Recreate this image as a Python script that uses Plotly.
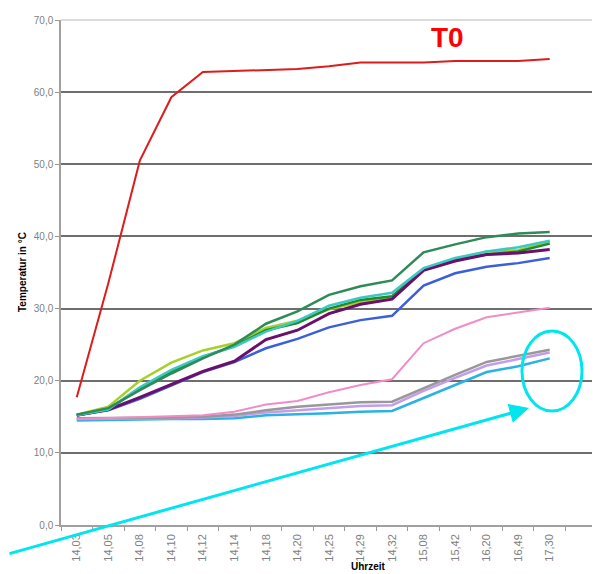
import plotly.graph_objects as go

categories = ["14,03", "14,05", "14,08", "14,10", "14,12", "14,14", "14,18", "14,20",
              "14,25", "14,29", "14,32", "15,08", "15,42", "16,20", "16,49", "17,30"]

t0_red = [17.7, 33.5, 50.5, 59.3, 62.8, 62.9, 63.1, 63.2, 63.6, 64.1, 64.1, 64.1, 64.3, 64.3, 64.3, 64.6]
seagreen = [15.3, 16.2, 18.7, 21.0, 23.1, 25.0, 27.9, 29.6, 31.9, 33.1, 33.9, 37.8, 38.9, 39.9, 40.4, 40.6]
teal = [15.2, 16.0, 19.1, 21.5, 23.4, 24.7, 26.8, 28.3, 30.4, 31.5, 32.2, 35.6, 37.0, 37.9, 38.5, 39.4]
yellowgreen = [15.3, 16.4, 20.0, 22.5, 24.2, 25.2, 27.3, 28.3, 29.9, 30.9, 31.5, 35.4, 36.8, 37.9, 38.1, 39.3]
forestgreen = [15.2, 16.0, 19.0, 21.3, 23.3, 24.8, 27.0, 28.0, 30.0, 31.2, 31.7, 35.4, 36.8, 37.5, 37.9, 39.0]
purple = [15.2, 16.0, 17.7, 19.5, 21.3, 22.7, 25.7, 27.0, 29.3, 30.6, 31.3, 35.3, 36.6, 37.5, 37.7, 38.2]
blue = [15.2, 15.9, 17.5, 19.3, 21.2, 22.6, 24.5, 25.8, 27.4, 28.4, 29.0, 33.2, 34.9, 35.8, 36.3, 37.0]
pink = [14.7, 14.8, 14.9, 15.0, 15.2, 15.7, 16.7, 17.2, 18.4, 19.4, 20.2, 25.2, 27.2, 28.8, 29.4, 30.1]
gray = [14.8, 14.8, 14.9, 14.9, 15.0, 15.3, 15.9, 16.4, 16.7, 17.0, 17.1, 19.0, 20.8, 22.6, 23.4, 24.3]
lavender = [14.7, 14.7, 14.8, 14.8, 14.9, 15.1, 15.6, 15.9, 16.2, 16.5, 16.6, 18.6, 20.4, 22.1, 23.0, 23.9]
cyan = [14.5, 14.6, 14.6, 14.7, 14.7, 14.8, 15.2, 15.3, 15.5, 15.7, 15.8, 17.6, 19.4, 21.2, 22.0, 23.1]

series = [
    ("cyan", cyan, "#2AB2E2", 2.5),
    ("lavender", lavender, "#C49CEB", 2.5),
    ("gray", gray, "#989898", 2.5),
    ("pink", pink, "#F08CC8", 2.0),
    ("blue", blue, "#3B5EDB", 2.5),
    ("yellowgreen", yellowgreen, "#A6D02A", 2.5),
    ("forestgreen", forestgreen, "#1F8A2E", 2.5),
    ("purple", purple, "#6A0F6E", 3.0),
    ("teal", teal, "#3EC8C4", 2.5),
    ("seagreen", seagreen, "#2E8B57", 2.5),
    ("T0", t0_red, "#DD1C1C", 2.0),
]

fig = go.Figure()
for name, vals, col, w in series:
    fig.add_trace(go.Scatter(x=categories, y=vals, mode="lines", name=name,
                             line=dict(color=col, width=w), showlegend=False))

# page offset from the default body margin of the html page
OFF = 8
# plot area geometry in page pixels
L, R, T, B = 61, 597, 20, 525
W, H = R - L, B - T
FW, FH = 600 - OFF, 574 - OFF
def px(x):
    return (x - L) / W
def py(y):
    return (B - y) / H

fig.update_layout(
    width=FW, height=FH,
    margin=dict(l=L - OFF, r=FW - (R - OFF), t=T - OFF, b=FH - (B - OFF), autoexpand=False),
    paper_bgcolor="white", plot_bgcolor="white",
    separators=",.",
    font=dict(family="Liberation Sans, Arial, sans-serif", color="#808080", size=10),
    xaxis=dict(type="category", categoryorder="array", categoryarray=categories + [" "],
               range=[-0.5, 16.5], tickson="boundaries", ticks="outside", ticklen=4,
               tickcolor="#999999", tickangle=-90, showgrid=False, showline=True,
               linecolor="#A0A0A0", linewidth=1.5, automargin=False, ticklabelstandoff=3,
               tickfont=dict(size=11, color="#808080")),
    yaxis=dict(range=[0, 70], dtick=10, tickformat=".1f", ticks="outside", ticklen=4,
               tickcolor="#999999", showgrid=True, gridcolor="#6E6E6E", gridwidth=1.5,
               zeroline=False, showline=True, linecolor="#A0A0A0", linewidth=1.5,
               automargin=False, tickfont=dict(size=10, color="#808080")),
    shapes=[
        dict(type="line", xref="paper", yref="paper", x0=0, x1=1, y0=1, y1=1,
             line=dict(color="#D0D0D0", width=1.5)),
        dict(type="line", xref="paper", yref="paper", x0=1, x1=1, y0=0, y1=1,
             line=dict(color="#D0D0D0", width=1.5)),
        dict(type="circle", xref="paper", yref="paper", x0=px(522), x1=px(582),
             y0=py(411), y1=py(331), line=dict(color="#00E5EE", width=3)),
    ],
    annotations=[
        dict(text="<b>T0</b>", xref="paper", yref="paper", x=px(447), y=py(37),
             xanchor="center", yanchor="middle", showarrow=False,
             font=dict(size=28, color="#FF0000", family="Liberation Sans, Arial, sans-serif")),
        dict(text="<b>Temperatur in °C</b>", xref="paper", yref="paper", x=px(22), y=py(272),
             xanchor="center", yanchor="middle", textangle=-90, showarrow=False,
             font=dict(size=10, color="#000000")),
        dict(text="<b>Uhrzeit</b>", xref="paper", yref="paper", x=px(368), y=py(566),
             xanchor="center", yanchor="middle", showarrow=False,
             font=dict(size=10, color="#000000")),
        dict(text="", xref="paper", yref="paper", x=px(529), y=py(408),
             ax=-536, ay=146, showarrow=True, arrowhead=2, arrowsize=1.3,
             arrowwidth=3, arrowcolor="#00E5EE", standoff=0),
    ],
)

fig.write_html("out.html")
